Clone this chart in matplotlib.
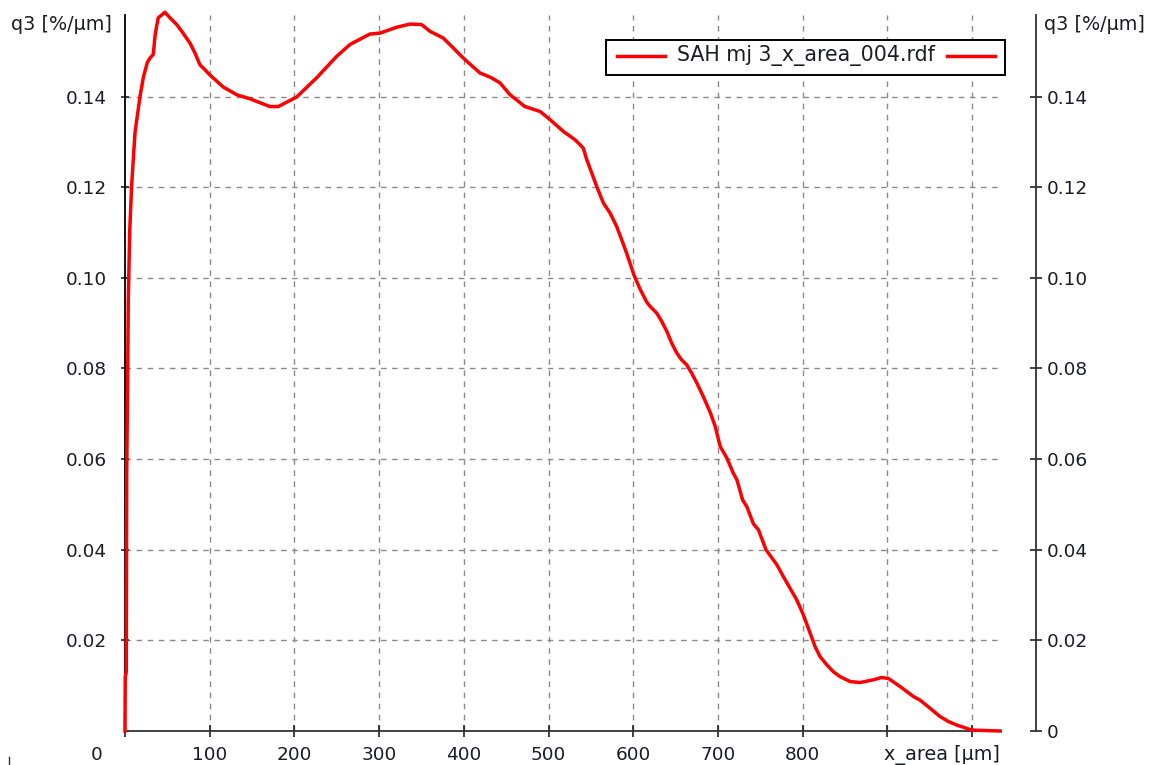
import matplotlib
matplotlib.use("Agg")
import matplotlib.pyplot as plt
from matplotlib.lines import Line2D
from matplotlib.patches import Rectangle

# ---- data ----
x_um = [0, 0.3, 1.5, 2.0, 3.0, 3.9, 5.5, 7.9, 11.8, 17.7, 21.6, 26.3, 29.5, 33.4,
        35.4, 37.3, 39.3, 47.2, 53, 61, 67, 76.7, 82.6, 88.5, 94.5, 100, 116,
        131.9, 147.6, 171, 181, 202.6, 226, 250, 265.6, 289, 301, 320.7, 336.5,
        350, 360, 375.8, 387.6, 395.5, 403.4, 419, 427, 432.9, 442.7, 454.5, 464,
        472, 482, 490, 501.8, 509.6, 517.5, 531, 537, 541, 545, 551, 556.7,
        564.7, 572.6, 580.4, 586.3, 592, 601, 608, 616, 619.8, 627.7, 633.5,
        639.5, 645.3, 651.3, 657, 663, 668.8, 675, 682.6, 691, 696.7, 702.5,
        710.5, 718, 722.3, 729, 734, 741.8, 747.7, 756.6, 769.4, 777, 785, 793,
        800.8, 808.7, 814.6, 820.5, 828.4, 836, 844, 856, 867.8, 883.4, 893,
        901, 915, 930.7, 938.6, 950.4, 962, 971.8, 981.9, 999.6, 1033]
q3 = [0, 0.012, 0.013, 0.057, 0.075, 0.0952, 0.110, 0.1206, 0.132, 0.140,
      0.1442, 0.1475, 0.1485, 0.1493, 0.1533, 0.1555, 0.1574, 0.1586, 0.1574,
      0.1559, 0.1544, 0.1518, 0.1496, 0.1470, 0.1459, 0.1448, 0.1421, 0.1404,
      0.1395, 0.1378, 0.1378, 0.1399, 0.1441, 0.1489, 0.1515, 0.1538, 0.1540,
      0.1553, 0.1560, 0.1559, 0.1544, 0.1529, 0.1507, 0.1492, 0.1478, 0.1452,
      0.1446, 0.1441, 0.1430, 0.1404, 0.1390, 0.1378, 0.1372, 0.1367, 0.1349,
      0.1336, 0.1323, 0.1305, 0.1294, 0.1286, 0.1261, 0.1231, 0.1202, 0.1165,
      0.1143, 0.1113, 0.1084, 0.1055, 0.1005, 0.0975, 0.0946, 0.0937, 0.0922,
      0.0904, 0.0882, 0.0856, 0.0834, 0.0819, 0.0808, 0.0790, 0.0768, 0.0738,
      0.0702, 0.0672, 0.0628, 0.0602, 0.0569, 0.0554, 0.0510, 0.0495, 0.0457,
      0.0444, 0.0400, 0.0367, 0.0341, 0.0315, 0.0289, 0.0256, 0.0216, 0.0186,
      0.0164, 0.0146, 0.0131, 0.0120, 0.0109, 0.0107, 0.0113, 0.0118, 0.0116,
      0.0098, 0.0076, 0.0068, 0.0050, 0.0032, 0.0021, 0.0013, 0.0002, 0.0]

x_ticks = [0, 100, 200, 300, 400, 500, 600, 700, 800, 900, 1000]
x_ticklabels = ["", "100", "200", "300", "400", "500", "600", "700", "800", "", ""]
y_ticks = [0.02, 0.04, 0.06, 0.08, 0.10, 0.12, 0.14]
y_ticklabels = ["0.02", "0.04", "0.06", "0.08", "0.10", "0.12", "0.14"]
y_ticks_right = [0, 0.02, 0.04, 0.06, 0.08, 0.10, 0.12, 0.14]
y_ticklabels_right = ["0", "0.02", "0.04", "0.06", "0.08", "0.10", "0.12", "0.14"]
series_name = "SAH mj 3_x_area_004.rdf"
y_label = "q3 [%/µm]"
x_label = "x_area [µm]"

W, H = 1151, 765
plt.rcParams['font.family'] = ['DejaVu Sans']
FS = 13.3
TC = '#1c1c28'

fig = plt.figure(figsize=(W / 100, H / 100), dpi=100)
L, R, T, B = 125, 1001, 15, 731
ax = fig.add_axes([L / W, 1 - B / H, (R - L) / W, (B - T) / H])
ax.set_xlim(0, 1034)
ax.set_ylim(0, 0.158)

ax.plot(x_um, q3, color='#ff0000', lw=2.5, clip_on=False, zorder=5,
        solid_joinstyle='round')

# grid
for xv in x_ticks[1:]:
    ax.axvline(xv, color='#8a8a8a', lw=1.0, ls=(0, (4, 4)), zorder=1)
for yv in y_ticks:
    ax.axhline(yv, color='#8a8a8a', lw=1.0, ls=(0, (4, 4)), zorder=1)

for s in ['top', 'right']:
    ax.spines[s].set_visible(False)
ax.spines['left'].set_color('black')
ax.spines['left'].set_linewidth(1.3)
ax.spines['bottom'].set_color('#333333')
ax.spines['bottom'].set_linewidth(1.3)

ax.set_xticks(x_ticks)
ax.set_xticklabels(x_ticklabels)
ax.set_yticks(y_ticks)
ax.set_yticklabels(y_ticklabels)
ax.tick_params(axis='x', direction='inout', length=9, width=1.2, color='#222222',
               labelsize=FS, labelcolor=TC, pad=6)
ax.tick_params(axis='y', direction='inout', length=6, width=1.2, color='#222222',
               labelsize=FS, labelcolor=TC, pad=10)

# right axis (detached)
ax2 = ax.twinx()
ax2.set_ylim(0, 0.158)
for s in ['top', 'left', 'bottom']:
    ax2.spines[s].set_visible(False)
ax2.spines['right'].set_position(('axes', (1036 - L) / (R - L)))
ax2.spines['right'].set_color('#333333')
ax2.spines['right'].set_linewidth(1.3)
ax2.set_yticks(y_ticks_right)
ax2.set_yticklabels(y_ticklabels_right)
ax2.tick_params(axis='y', direction='inout', length=8, width=1.2, color='#222222',
                labelsize=FS, labelcolor=TC, pad=4)

# axis labels / special tick labels
fig.text(112 / W, 1 - 25 / H, y_label, ha='right', va='center', fontsize=FS + 0.5, color=TC)
fig.text(1044 / W, 1 - 25 / H, y_label, ha='left', va='center', fontsize=FS + 0.5, color=TC)
fig.text(97 / W, 1 - 755 / H, "0", ha='center', va='center', fontsize=FS, color=TC)
fig.text(1000 / W, 1 - 755 / H, x_label, ha='right', va='center', fontsize=FS + 0.5, color=TC)

# small mark bottom-left
fig.add_artist(Line2D([9 / W, 9 / W], [1 - 757 / H, 1 - 765 / H], color='#333333', lw=1.0))

# legend box
lx0, lx1, ly0, ly1 = 606, 1005, 40, 75
fig.add_artist(Rectangle((lx0 / W, 1 - ly1 / H), (lx1 - lx0) / W, (ly1 - ly0) / H,
                         transform=fig.transFigure, facecolor='white',
                         edgecolor='black', lw=1.4, zorder=10))
ymid = 1 - 56 / H
fig.add_artist(Line2D([617 / W, 665 / W], [ymid, ymid], color='#ff0000', lw=2.5, zorder=11))
fig.add_artist(Line2D([947 / W, 995 / W], [ymid, ymid], color='#ff0000', lw=2.5, zorder=11))
fig.text(806 / W, ymid, series_name, ha='center', va='center', fontsize=FS + 1.5, color=TC,
         zorder=12)

fig.savefig("out.png", dpi=100)
